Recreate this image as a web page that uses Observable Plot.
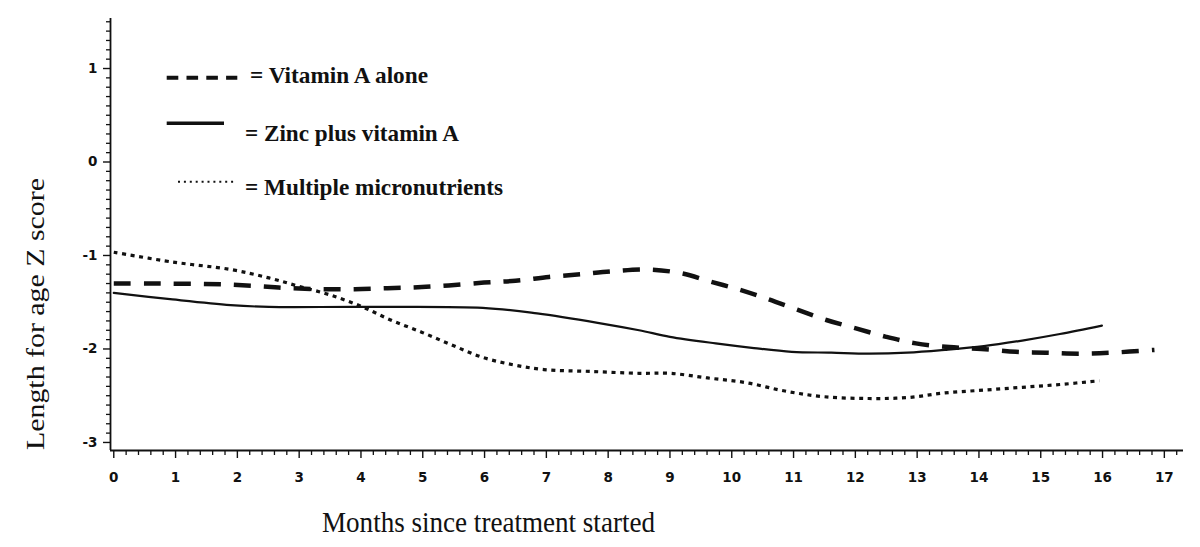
<!DOCTYPE html>
<html>
<head>
<meta charset="utf-8">
<script src="https://cdn.jsdelivr.net/npm/d3@7"></script>
<script src="https://cdn.jsdelivr.net/npm/@observablehq/plot@0.6"></script>
<style>
  html, body { margin: 0; padding: 0; background: #fff; }
  #chart { width: 1200px; height: 547px; position: relative; }
</style>
</head>
<body>
<div id="chart"></div>
<script>
// ---- Data ----
const vitAMonths = [0, 0.6, 1.79, 2.39, 2.86, 3.37, 3.9, 4.43, 4.92, 5.42, 5.99, 6.5, 7.04, 7.57, 8.06, 8.63, 9.18, 9.66, 10.15, 10.6, 11.06, 11.53, 12.01, 12.5, 12.98, 13.52, 14.04, 14.6, 15.09, 15.62, 16.14, 16.84];
const vitAValues = [-1.30, -1.30, -1.31, -1.33, -1.35, -1.36, -1.36, -1.35, -1.34, -1.32, -1.29, -1.27, -1.23, -1.20, -1.17, -1.15, -1.19, -1.28, -1.37, -1.47, -1.58, -1.69, -1.78, -1.87, -1.94, -1.98, -2.00, -2.03, -2.04, -2.05, -2.04, -2.01];

const zincMonths = [0, 0.95, 1.89, 2.51, 3.99, 5.97, 6.85, 7.83, 8.5, 9.0, 9.74, 10.36, 10.97, 11.61, 12.22, 12.84, 13.45, 14.08, 14.7, 15.31, 15.99];
const zincValues = [-1.40, -1.47, -1.53, -1.55, -1.55, -1.56, -1.62, -1.72, -1.80, -1.87, -1.94, -1.99, -2.03, -2.04, -2.05, -2.04, -2.01, -1.97, -1.91, -1.84, -1.75];

const microMonths = [0, 0.95, 1.89, 2.51, 3.0, 3.49, 3.99, 4.48, 4.98, 5.48, 5.97, 6.47, 6.96, 7.7, 8.5, 9.0, 9.61, 10.23, 10.86, 11.48, 12.22, 12.84, 13.45, 14.08, 14.7, 15.31, 15.95];
const microValues = [-0.965, -1.07, -1.15, -1.24, -1.33, -1.42, -1.54, -1.69, -1.82, -1.96, -2.09, -2.17, -2.22, -2.24, -2.26, -2.26, -2.31, -2.36, -2.45, -2.51, -2.53, -2.52, -2.47, -2.44, -2.41, -2.38, -2.34];

const seriesNames = ["Vitamin A alone", "Zinc plus vitamin A", "Multiple micronutrients"];
const legendLabels = ["= Vitamin A alone", "= Zinc plus vitamin A", "= Multiple micronutrients"];

const xMajorTicks = d3.range(0, 18, 1);
const xMinorTicks = d3.range(0, 17.21, 0.2).map(d => +d.toFixed(1)).filter(d => Math.abs(d - Math.round(d)) > 1e-6);
const yMajorTicks = [-3, -2, -1, 0, 1];
const yMinorTicks = d3.range(-30, 16, 1).map(d => d / 10).filter(d => Math.abs(d - Math.round(d)) > 1e-6);

const xDomain = [-0.053, 17.31];
const yDomain = [-3.086, 1.535];

const xTitle = "Months since treatment started";
const yTitle = "Length for age Z score";

// ---- Build rows ----
const rows = (months, values) => months.map((m, i) => ({ month: m, z: values[i] }));
const vitA = rows(vitAMonths, vitAValues);
const zinc = rows(zincMonths, zincValues);
const micro = rows(microMonths, microValues);

const ink = "#111";

const chart = Plot.plot({
  width: 1200,
  height: 547,
  marginLeft: 110,
  marginRight: 17,
  marginTop: 18,
  marginBottom: 97,
  style: { fontFamily: "DejaVu Sans", fontSize: "13.5px", fontWeight: "bold", color: ink, background: "#fff" },
  x: { domain: xDomain },
  y: { domain: yDomain },
  marks: [
    Plot.axisX({ ticks: xMinorTicks, tickSize: 5, tickFormat: () => "", label: null, strokeWidth: 1.3 }),
    Plot.axisX({ ticks: xMajorTicks, tickSize: 8, tickPadding: 14, tickFormat: d => String(d), label: null, strokeWidth: 1.4 }),
    Plot.axisY({ ticks: yMinorTicks, tickSize: 4, tickFormat: () => "", label: null, strokeWidth: 1.3 }),
    Plot.axisY({ ticks: yMajorTicks, tickSize: 7, tickPadding: 6, tickFormat: d => String(d), label: null, strokeWidth: 1.4 }),
    Plot.ruleX([xDomain[0]], { stroke: ink, strokeWidth: 1.8 }),
    Plot.ruleY([yDomain[0]], { stroke: ink, strokeWidth: 1.8 }),
    Plot.line(micro, { x: "month", y: "z", curve: "catmull-rom", stroke: ink, strokeWidth: 3.2, strokeDasharray: "4,4.6", strokeLinecap: "butt" }),
    Plot.line(zinc, { x: "month", y: "z", curve: "catmull-rom", stroke: ink, strokeWidth: 2.2 }),
    Plot.line(vitA, { x: "month", y: "z", curve: "catmull-rom", stroke: ink, strokeWidth: 4.5, strokeDasharray: "17,13", strokeLinecap: "butt" })
  ]
});

document.getElementById("chart").appendChild(chart);

// ---- Titles and legend (text kept as real SVG text) ----
const svg = d3.select(chart);
const serif = "'Liberation Serif', 'DejaVu Serif', serif";

svg.append("text")
  .attr("x", 322).attr("y", 532)
  .attr("text-anchor", "start")
  .attr("font-family", serif)
  .attr("font-size", 30).attr("font-weight", "normal")
  .attr("fill", ink)
  .attr("textLength", 333).attr("lengthAdjust", "spacingAndGlyphs")
  .text(xTitle);

svg.append("text")
  .attr("transform", "translate(43.5,314) rotate(-90)")
  .attr("text-anchor", "middle")
  .attr("font-family", serif)
  .attr("font-size", 25.5).attr("font-weight", "normal")
  .attr("fill", ink)
  .attr("textLength", 272).attr("lengthAdjust", "spacingAndGlyphs")
  .text(yTitle);

const legendSpec = [
  { key: [166.7, 237.3, 77.7], width: 4, dash: "11.6,8.2", text: [250, 83, 178] },
  { key: [166.7, 224, 123.3], width: 3.5, dash: null, text: [245, 140.5, 214] },
  { key: [178, 237, 181.7], width: 2, dash: "2,3.9", text: [245, 195, 258] }
];
const lg = svg.append("g").attr("class", "legend");
legendSpec.forEach((s, i) => {
  const ln = lg.append("line")
    .attr("x1", s.key[0]).attr("x2", s.key[1])
    .attr("y1", s.key[2]).attr("y2", s.key[2])
    .attr("stroke", ink).attr("stroke-width", s.width);
  if (s.dash) ln.attr("stroke-dasharray", s.dash);
  lg.append("text")
    .attr("x", s.text[0]).attr("y", s.text[1])
    .attr("text-anchor", "start")
    .attr("font-family", serif)
    .attr("font-size", 24).attr("font-weight", "bold")
    .attr("fill", ink)
    .attr("textLength", s.text[2]).attr("lengthAdjust", "spacingAndGlyphs")
    .text(legendLabels[i]);
});
</script>
</body>
</html>
